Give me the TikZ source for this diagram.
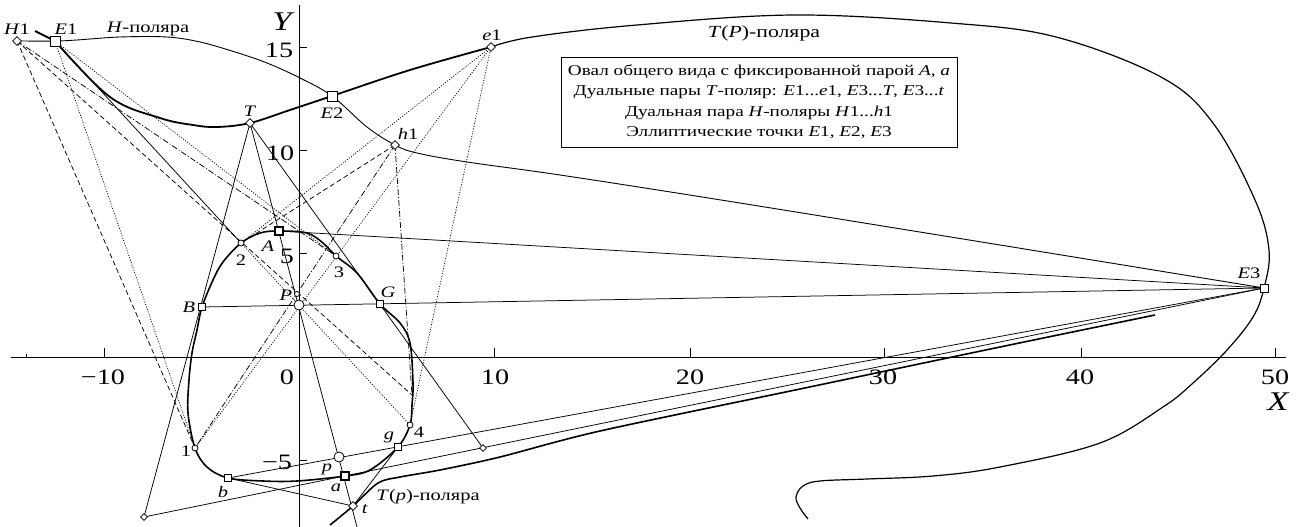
\documentclass[tikz,border=0pt]{standalone}
\usepackage{fontspec}
\setmainfont{Liberation Serif}[FakeStretch=1.28]
\usetikzlibrary{shapes.geometric}
\begin{document}
\begin{tikzpicture}[x=1pt,y=-1pt,
  thinl/.style={line width=0.75pt},
  dotl/.style={line width=0.75pt, dash pattern=on 1pt off 1.6pt},
  dashl/.style={line width=0.75pt, dash pattern=on 5pt off 3pt},
  dashdotl/.style={line width=0.75pt, dash pattern=on 6pt off 2pt on 1pt off 2pt},
  axisl/.style={line width=0.8pt},
  sq/.style={draw, fill=white, rectangle, minimum size=7pt, inner sep=0pt, line width=0.8pt},
  bigsq/.style={sq, minimum size=10pt},
  boldsq/.style={sq, minimum size=8pt, line width=1.4pt},
  dia/.style={draw, fill=white, diamond, minimum size=9pt, inner sep=0pt, line width=0.8pt},
  smalldia/.style={dia, minimum size=7pt},
  circ/.style={draw, fill=white, circle, minimum size=6pt, inner sep=0pt, line width=0.8pt},
  bigcirc/.style={circ, minimum size=10pt},
  lab/.style={font=\fontsize{16}{18}\selectfont, inner sep=0pt},
  tick/.style={font=\fontsize{22}{26}\selectfont, inner sep=0pt},
  axlab/.style={font=\fontsize{27}{30}\selectfont\itshape, inner sep=0pt}
]
\fill[white] (0,0) rectangle (1301,527);
\path[use as bounding box] (0,0) rectangle (1301,527);

% points
\coordinate (H1) at (17,41);
\coordinate (E1) at (55,41);
\coordinate (E1t) at (35,31);
\coordinate (T) at (250,123);
\coordinate (E2) at (332,96);
\coordinate (e1) at (491,47);
\coordinate (h1) at (395,145);
\coordinate (A) at (279,231);
\coordinate (p2) at (241,243);
\coordinate (p3) at (336,256);
\coordinate (P) at (299,305);
\coordinate (Pa) at (297,294);
\coordinate (B) at (202,307);
\coordinate (G) at (380,304);
\coordinate (p1) at (195,448);
\coordinate (p4) at (410,425);
\coordinate (b) at (228,478);
\coordinate (a) at (345,476);
\coordinate (p) at (339,457);
\coordinate (g) at (398,447);
\coordinate (t) at (353,506);
\coordinate (LL) at (144,517);
\coordinate (R) at (483,448);
\coordinate (E3) at (1264,288);
\coordinate (Tend) at (357,527);
\coordinate (Q) at (412,395);

% axes
\coordinate (xa0) at (11,357);
\coordinate (xa1) at (1286,357);
\coordinate (ya0) at (299,5);
\coordinate (ya1) at (299,527);
\draw[axisl] (xa0) -- (xa1);
\draw[axisl] (ya0) -- (ya1);
\foreach \x in {104,494,690,884,1081,1275} \draw[axisl] (\x,357) -- (\x,348);
\draw[axisl] (26,357) -- (26,354);
\foreach \y in {47,150,253,460} \draw[axisl] (299,\y) -- (307,\y);

% construction lines: dotted (E1, e1)
\draw[dotl] (E1) -- (p1);
\draw[dotl] (E1) -- (p3);
\draw[dotl] (p2) -- (p4);
\draw[dotl] (e1) -- (p1);
\draw[dotl] (e1) -- (p2);
\draw[dotl] (e1) -- (p4);
% dashed (H1, h1)
\draw[dashl] (H1) -- (p1);
\draw[dashl] (H1) -- (Q);
\draw[dashdotl] (H1) -- (p3);
\draw[dashdotl] (h1) -- (p1);
\draw[dashdotl] (h1) -- (Q);
\draw[dashl] (h1) -- (p2);

% solid construction lines
\draw[thinl] (E1) -- (p2);
\draw[thinl] (T) -- (LL);
\draw[thinl] (T) -- (Tend);
\draw[thinl] (T) -- (R);
\draw[thinl] (LL) -- (E3);
\draw[thinl] (b) -- (E3);
\draw[thinl] (b) -- (t);
\draw[thinl] (t) -- (g);
\draw[thinl] (B) -- (E3);
\draw[thinl] (A) -- (E3);

% H-polar
\draw[line width=0.9pt] plot[smooth, tension=0.6] coordinates {(17,41) (55,41) (77,40) (120,37) (167,37) (200,42) (235,52) (267,63) (300,78) (332,96) (367,127) (395,145) (417,153) (467,162) (560,175) (721,200) (1000,245) (1264,288)};

% T(P)-polar: thick near part
\draw[line width=1.8pt] (E1t) -- (E1);
\draw[line width=1.8pt] plot[smooth, tension=0.6] coordinates {(55,41) (110,97) (160,118) (193,125) (217,127) (250,123) (290,110) (332,96) (410,70) (491,47)};
% T(P)-polar: big loop
\draw[line width=1.2pt] plot[smooth, tension=0.6] coordinates {(491,47) (532,37) (637,25) (794,15) (951,23) (1056,37) (1161,77) (1213,123) (1255,200) (1269,250) (1264,288) (1253,317) (1227,350) (1193,383) (1163,407) (1100,443) (1000,467) (933,476) (867,479) (820,481) (803,486) (796,497) (800,508) (808,519)};

% T(p)-polar
\draw[line width=1.6pt] plot[smooth, tension=0.5] coordinates {(330,525) (353,506) (378,483) (400,477) (440,470) (500,457) (600,431) (800,389) (1000,347) (1155,315)};

% oval
\draw[line width=1.6pt] plot[smooth cycle, tension=0.55] coordinates {(279,231) (307,233) (323,243) (336,256) (357,273) (380,304) (400,323) (410,343) (413,383) (412,405) (410,425) (398,447) (370,470) (345,476) (297,481) (263,481) (228,478) (207,467) (195,448) (188,413) (189,380) (192,353) (197,330) (202,307) (213,280) (223,262) (241,243) (260,233)};

% markers
\node[dia] (mH1) at (H1) {};
\node[bigsq] (mE1) at (E1) {};
\node[dia] (mT) at (T) {};
\node[bigsq] (mE2) at (E2) {};
\node[dia] (me1) at (e1) {};
\node[dia] (mh1) at (h1) {};
\node[boldsq] (mA) at (A) {};
\node[circ] (m2) at (p2) {};
\node[circ] (m3) at (p3) {};
\node[circ, minimum size=5pt] (mPa) at (Pa) {};
\node[bigcirc] (mP) at (P) {};
\node[sq] (mB) at (B) {};
\node[sq] (mG) at (G) {};
\node[circ] (m1) at (p1) {};
\node[circ] (m4) at (p4) {};
\node[sq] (mb) at (b) {};
\node[sq] (mg) at (g) {};
\node[bigcirc] (mp) at (p) {};
\node[boldsq] (ma) at (a) {};
\node[dia] (mt) at (t) {};
\node[smalldia] (mLL) at (LL) {};
\node[smalldia] (mR) at (R) {};
\node[sq, minimum size=8pt] (mE3) at (E3) {};

% labels
\node[lab] (lH1) at (17,29) {\textit{H}1};
\node[lab] (lE1) at (66,29) {\textit{E}1};
\node[lab] (lHp) at (148,29) {\textit{H}-поляра};
\node[lab] (lT) at (250,111) {\textit{T}};
\node[lab] (lE2) at (332,113) {\textit{E}2};
\node[lab] (le1) at (492,35) {\textit{e}1};
\node[lab] (lh1) at (408,134) {\textit{h}1};
\node[lab] (lA) at (268,246) {\textit{A}};
\node[lab] (l2) at (241,260) {2};
\node[lab] (l3) at (339,272) {3};
\node[lab] (lP) at (286,295) {\textit{P}};
\node[lab] (lB) at (189,307) {\textit{B}};
\node[lab] (lG) at (388,292) {\textit{G}};
\node[lab] (l1) at (186,451) {1};
\node[lab] (lb) at (223,492) {\textit{b}};
\node[lab] (la) at (336,488) {\textit{a}};
\node[lab] (lp) at (327,469) {\textit{p}};
\node[lab] (lg) at (389,437) {\textit{g}};
\node[lab] (l4) at (419,432) {4};
\node[lab] (lt) at (365,509) {\textit{t}};
\node[lab] (lTp) at (428,497) {\textit{T}(\textit{p})-поляра};
\node[lab] (lE3) at (1249,273) {\textit{E}3};
\node[lab, font=\fontsize{17}{18}\selectfont] (lTP) at (764,33) {\textit{T}(\textit{P})-поляра};

% tick labels
\node[tick] (tm10) at (103,377) {−10};
\node[tick] (t0) at (287,377) {0};
\node[tick] (t10) at (495,377) {10};
\node[tick] (t20) at (690,377) {20};
\node[tick] (t30) at (883,377) {30};
\node[tick] (t40) at (1080,377) {40};
\node[tick] (t50) at (1275,377) {50};
\node[tick] (ty15) at (279,50) {15};
\node[tick] (ty10) at (280,153) {10};
\node[tick] (ty5) at (287,256) {5};
\node[tick] (tym5) at (277,462) {−5};
\node[axlab] (lX) at (1278,402) {X};
\node[axlab] (lY) at (282,22) {Y};

% legend box
\node[draw, line width=0.8pt, fill=white, minimum width=396pt, minimum height=90pt, inner sep=0pt] (box) at (759,102) {};
\node[font=\fontsize{15}{20.5}\selectfont, align=center, inner sep=0pt] (boxtext) at (box.center) {Овал общего вида с фиксированной парой \textit{A}, \textit{a}\\
Дуальные пары \textit{T}-поляр: \textit{E}1...\textit{e}1, \textit{E}3...\textit{T}, \textit{E}3...\textit{t}\\
Дуальная пара \textit{H}-поляры \textit{H}1...\textit{h}1\\
Эллиптические точки \textit{E}1, \textit{E}2, \textit{E}3};
\end{tikzpicture}
\end{document}
